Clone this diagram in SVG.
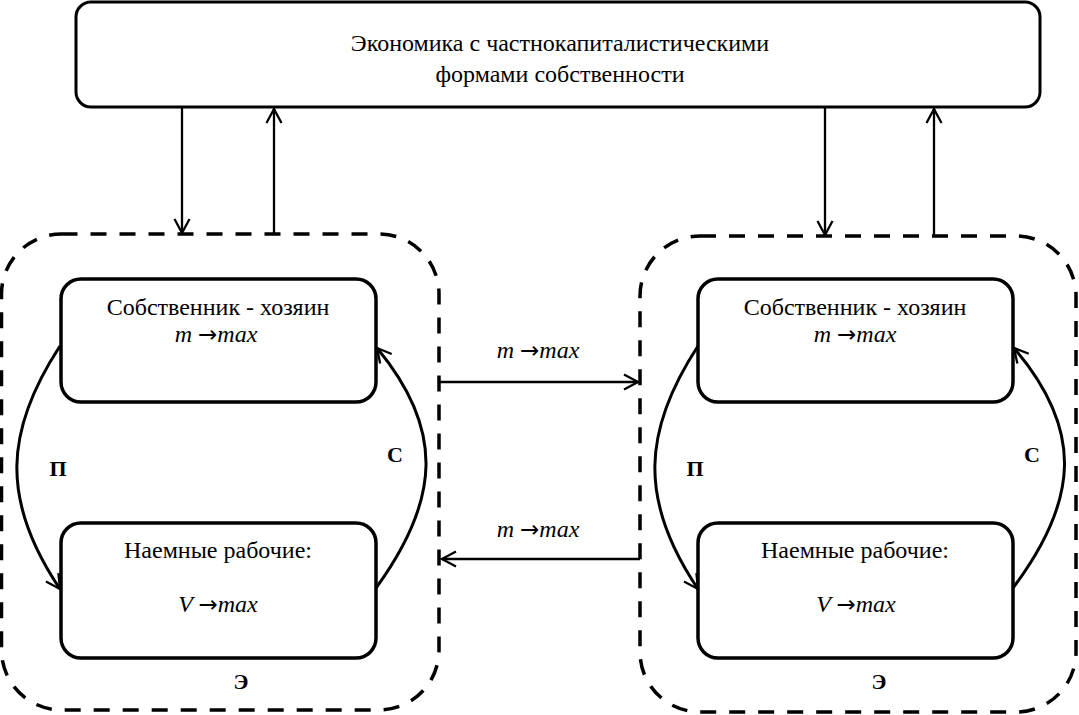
<svg xmlns="http://www.w3.org/2000/svg" width="1079" height="715" viewBox="0 0 1079 715">
<style>
  text { font-family: 'Liberation Serif', 'DejaVu Serif', serif; fill: #000; }
  .t { font-size: 24px; text-anchor: middle; }
  .m { font-size: 24px; text-anchor: middle; font-style: italic; }
  .m tspan.a { font-style: normal; font-family: 'DejaVu Sans', sans-serif; font-size: 23px; }
  .b { font-size: 22px; font-weight: bold; text-anchor: middle; }
  .box { fill: #fff; stroke: #000; stroke-width: 3.5; }
  .top { fill: #fff; stroke: #000; stroke-width: 3; }
  .dash { fill: none; stroke: #000; stroke-width: 3.5; stroke-dasharray: 16 13; }
  .c { fill: none; stroke: #000; stroke-width: 2.3; }
  .cc { fill: none; stroke: #000; stroke-width: 3; }
</style>
<defs>
  <marker id="ah" viewBox="-16 -10 18 20" markerWidth="18" markerHeight="20" refX="0" refY="0" orient="auto" markerUnits="userSpaceOnUse">
    <path d="M -14 -7.5 L 0 0 L -14 7.5" fill="none" stroke="#000" stroke-width="2.3"/>
  </marker>
</defs>

<g id="economy">
  <rect class="top" x="76" y="2" width="964" height="105" rx="15" ry="15"/>
  <text class="t" x="560" y="51">Экономика с частнокапиталистическими</text>
  <text class="t" x="560" y="82">формами собственности</text>
</g>

<g id="group-left">
  <rect class="dash" x="1.5" y="234" width="437.5" height="476" rx="60" ry="60"/>
  <text class="b" x="241" y="689">Э</text>
</g>
<g id="group-right">
  <rect class="dash" x="640" y="236" width="436" height="476" rx="60" ry="60"/>
  <text class="b" x="879" y="689">Э</text>
</g>

<g id="owner-left">
  <rect class="box" x="61" y="279" width="315" height="123" rx="20" ry="20"/>
  <text class="t" x="218" y="315">Собственник - хозяин</text>
  <text class="m" x="216" y="342">m <tspan class="a">→</tspan>max</text>
</g>
<g id="workers-left">
  <rect class="box" x="61" y="523" width="315" height="135" rx="20" ry="20"/>
  <text class="t" x="218" y="558">Наемные рабочие:</text>
  <text class="m" x="218" y="612">V <tspan class="a">→</tspan>max</text>
</g>
<g id="owner-right">
  <rect class="box" x="698" y="279" width="315" height="123" rx="20" ry="20"/>
  <text class="t" x="855" y="315">Собственник - хозяин</text>
  <text class="m" x="855" y="342">m <tspan class="a">→</tspan>max</text>
</g>
<g id="workers-right">
  <rect class="box" x="698" y="523" width="315" height="135" rx="20" ry="20"/>
  <text class="t" x="855" y="558">Наемные рабочие:</text>
  <text class="m" x="856" y="612">V <tspan class="a">→</tspan>max</text>
</g>

<g id="connectors">
  <line class="c" x1="182" y1="108" x2="182" y2="233" marker-end="url(#ah)"/>
  <line class="c" x1="274" y1="234" x2="274" y2="109" marker-end="url(#ah)"/>
  <line class="c" x1="825" y1="108" x2="825" y2="235" marker-end="url(#ah)"/>
  <line class="c" x1="934" y1="236" x2="934" y2="109" marker-end="url(#ah)"/>

  <line class="c" x1="439" y1="382" x2="638" y2="382" marker-end="url(#ah)"/>
  <line class="c" x1="640" y1="559" x2="442" y2="559" marker-end="url(#ah)"/>
  <text class="m" x="538" y="358">m <tspan class="a">→</tspan>max</text>
  <text class="m" x="538" y="537">m <tspan class="a">→</tspan>max</text>

  <path class="cc" d="M 60 346 C 5 430, 0 500, 60 589" marker-end="url(#ah)"/>
  <path class="cc" d="M 376 588 C 440 500, 445 430, 377 348" marker-end="url(#ah)"/>
  <path class="cc" d="M 698 346 C 643 430, 638 500, 698 589" marker-end="url(#ah)"/>
  <path class="cc" d="M 1013 588 C 1079 500, 1084 430, 1014 348" marker-end="url(#ah)"/>
  <text class="b" x="58" y="476">П</text>
  <text class="b" x="395" y="462">С</text>
  <text class="b" x="695" y="476">П</text>
  <text class="b" x="1032" y="462">С</text>
</g>
</svg>
